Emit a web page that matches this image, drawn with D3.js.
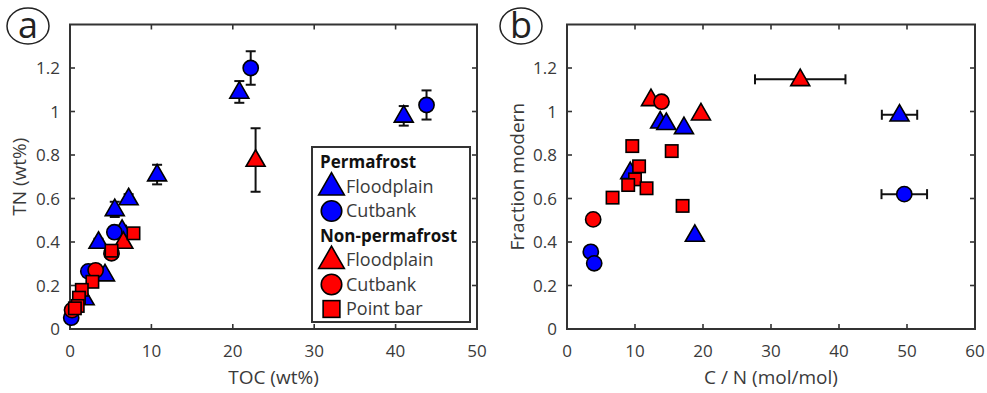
<!DOCTYPE html>
<html>
<head>
<meta charset="utf-8">
<script src="https://d3js.org/d3.v7.min.js"></script>
<style>
  body { margin: 0; background: #fff; }
  text { font-family: "Open Sans", "Noto Sans", sans-serif; fill: #3a3a3a; }
</style>
</head>
<body>
<svg id="chart" width="987" height="393"></svg>
<script>
// panel a: TOC (wt%) vs TN (wt%), e = error on TN
let aPermFlood = [
  {x: 20.8, y: 1.09, e: 0.05}, {x: 41.0, y: 0.98, e: 0.045}, {x: 10.7, y: 0.71, e: 0.045},
  {x: 7.2, y: 0.60, e: 0.02}, {x: 5.5, y: 0.55, e: 0.035}, {x: 3.5, y: 0.40, e: 0.015},
  {x: 6.4, y: 0.455, e: 0.02}, {x: 4.3, y: 0.25, e: 0.01}, {x: 1.8, y: 0.14, e: 0.01}
];
let aPermCut = [
  {x: 22.2, y: 1.20, e: 0.077}, {x: 43.8, y: 1.03, e: 0.067}, {x: 5.45, y: 0.445, e: 0},
  {x: 2.25, y: 0.265, e: 0}, {x: 0.15, y: 0.052, e: 0}
];
let aNonFlood = [
  {x: 22.8, y: 0.777, e: 0.146}, {x: 6.55, y: 0.40, e: 0.01}
];
let aNonCut = [
  {x: 3.15, y: 0.27, e: 0}, {x: 5.1, y: 0.348, e: 0}, {x: 0.25, y: 0.087, e: 0}
];
let aNonBar = [
  {x: 7.8, y: 0.44}, {x: 5.1, y: 0.36}, {x: 2.75, y: 0.217}, {x: 1.45, y: 0.18},
  {x: 1.1, y: 0.144}, {x: 0.95, y: 0.106}, {x: 0.6, y: 0.095}
];

// panel b: C/N (mol/mol) vs fraction modern, e = error on C/N
let bPermFlood = [
  {x: 48.9, y: 0.985, e: 2.6}, {x: 18.8, y: 0.432, e: 0}, {x: 13.7, y: 0.953, e: 0},
  {x: 14.6, y: 0.946, e: 0}, {x: 17.2, y: 0.927, e: 0}, {x: 9.3, y: 0.72, e: 0}
];
let bPermCut = [
  {x: 49.6, y: 0.62, e: 3.35}, {x: 3.5, y: 0.355, e: 0}, {x: 4.0, y: 0.302, e: 0}
];
let bNonFlood = [
  {x: 34.3, y: 1.148, e: 6.65}, {x: 12.35, y: 1.056, e: 0}, {x: 19.7, y: 0.99, e: 0}
];
let bNonCut = [
  {x: 13.9, y: 1.045, e: 0}, {x: 3.85, y: 0.504, e: 0}
];
let bNonBar = [
  {x: 9.6, y: 0.841}, {x: 15.4, y: 0.818}, {x: 10.6, y: 0.748}, {x: 10.0, y: 0.688},
  {x: 9.0, y: 0.662}, {x: 11.7, y: 0.647}, {x: 6.7, y: 0.604}, {x: 17.0, y: 0.566}
];

let yTicks = [0, 0.2, 0.4, 0.6, 0.8, 1, 1.2];
let aXTicks = [0, 10, 20, 30, 40, 50];
let bXTicks = [0, 10, 20, 30, 40, 50, 60];

let legendRows = [
  {head: 'Permafrost'},
  {label: 'Floodplain', shape: 'tri', color: '#0000ff'},
  {label: 'Cutbank', shape: 'circ', color: '#0000ff'},
  {head: 'Non-permafrost'},
  {label: 'Floodplain', shape: 'tri', color: '#ff0000'},
  {label: 'Cutbank', shape: 'circ', color: '#ff0000'},
  {label: 'Point bar', shape: 'sq', color: '#ff0000'}
];

let blue = '#0000ff', red = '#ff0000', axisColor = '#333';
let plotTop = 24.5, plotBottom = 329;
let svg = d3.select('#chart');

let xA = d3.scaleLinear().domain([0, 50]).range([70, 477]);
let xB = d3.scaleLinear().domain([0, 60]).range([567, 975]);
let yS = d3.scaleLinear().domain([0, 1.4]).range([plotBottom, plotTop]);

function marker(g, shape, cx, cy, color, s) {
  // s = scale factor (1 in plot, bigger in legend)
  let m;
  if (shape === 'tri') {
    let w = 9.5 * s, h = 16.5 * s;
    m = g.append('path').attr('d', `M${cx},${cy - h * 0.62}L${cx + w},${cy + h * 0.38}L${cx - w},${cy + h * 0.38}Z`);
  } else if (shape === 'circ') {
    m = g.append('circle').attr('cx', cx).attr('cy', cy).attr('r', 7.6 * s);
  } else {
    let a = 6.2 * s;
    m = g.append('rect').attr('x', cx - a).attr('y', cy - a).attr('width', 2 * a).attr('height', 2 * a);
  }
  m.attr('fill', color).attr('stroke', '#000').attr('stroke-width', 1.6);
}

function drawPanel(x, ticksX, xLabel, yLabel, yLabelX, letter, letterX) {
  let g = svg.append('g');
  let x0 = x.range()[0], x1 = x.range()[1];
  // ticks on all four sides (inward)
  ticksX.forEach(t => {
    g.append('line').attr('x1', x(t)).attr('x2', x(t)).attr('y1', plotBottom).attr('y2', plotBottom - 5)
      .attr('stroke', axisColor).attr('stroke-width', 1.6);
    g.append('line').attr('x1', x(t)).attr('x2', x(t)).attr('y1', plotTop).attr('y2', plotTop + 5)
      .attr('stroke', axisColor).attr('stroke-width', 1.6);
    g.append('text').attr('x', x(t)).attr('y', 357).attr('text-anchor', 'middle')
      .style('font-size', '17px').text(t);
  });
  yTicks.forEach(t => {
    g.append('line').attr('x1', x0).attr('x2', x0 + 5).attr('y1', yS(t)).attr('y2', yS(t))
      .attr('stroke', axisColor).attr('stroke-width', 1.6);
    g.append('line').attr('x1', x1).attr('x2', x1 - 5).attr('y1', yS(t)).attr('y2', yS(t))
      .attr('stroke', axisColor).attr('stroke-width', 1.6);
    g.append('text').attr('x', x0 - 10).attr('y', yS(t)).attr('dy', '0.36em').attr('text-anchor', 'end')
      .style('font-size', '17px').text(t);
  });
  g.append('rect').attr('x', x0).attr('y', plotTop).attr('width', x1 - x0).attr('height', plotBottom - plotTop)
    .attr('fill', 'none').attr('stroke', axisColor).attr('stroke-width', 2);
  g.append('text').attr('x', (x0 + x1) / 2).attr('y', 384).attr('text-anchor', 'middle')
    .style('font-size', '19px').text(xLabel);
  g.append('text').attr('transform', `translate(${yLabelX},${(plotTop + plotBottom) / 2}) rotate(-90)`)
    .attr('text-anchor', 'middle').style('font-size', '19px').text(yLabel);
  // panel letter
  g.append('ellipse').attr('cx', letterX).attr('cy', 26).attr('rx', 21).attr('ry', 18)
    .attr('fill', 'none').attr('stroke', '#222').attr('stroke-width', 1.5);
  g.append('text').attr('x', letterX).attr('y', 38).attr('text-anchor', 'middle')
    .style('font-size', '36px').style('fill', '#222').text(letter);
  return g;
}

function errY(g, x, d) {
  if (!d.e) return;
  let cx = x(d.x), y1 = yS(d.y - d.e), y2 = yS(d.y + d.e);
  g.append('line').attr('x1', cx).attr('x2', cx).attr('y1', y1).attr('y2', y2).attr('stroke', '#111').attr('stroke-width', 2);
  [y1, y2].forEach(yy => g.append('line').attr('x1', cx - 5).attr('x2', cx + 5).attr('y1', yy).attr('y2', yy)
    .attr('stroke', '#111').attr('stroke-width', 2));
}
function errX(g, x, d) {
  if (!d.e) return;
  let cy = yS(d.y), x1 = x(d.x - d.e), x2 = x(d.x + d.e);
  g.append('line').attr('x1', x1).attr('x2', x2).attr('y1', cy).attr('y2', cy).attr('stroke', '#111').attr('stroke-width', 2);
  [x1, x2].forEach(xx => g.append('line').attr('x1', xx).attr('x2', xx).attr('y1', cy - 5).attr('y2', cy + 5)
    .attr('stroke', '#111').attr('stroke-width', 2));
}

function series(g, x, data, shape, color, errFn) {
  data.forEach(d => { if (errFn) errFn(g, x, d); marker(g, shape, x(d.x), yS(d.y), color, 1); });
}

let ga = drawPanel(xA, aXTicks, 'TOC (wt%)', 'TN (wt%)', 26, 'a', 28);
series(ga, xA, aPermFlood, 'tri', blue, errY);
series(ga, xA, aPermCut, 'circ', blue, errY);
series(ga, xA, aNonFlood, 'tri', red, errY);
series(ga, xA, aNonCut, 'circ', red, errY);
series(ga, xA, aNonBar, 'sq', red, null);

let gb = drawPanel(xB, bXTicks, 'C / N (mol/mol)', 'Fraction modern', 524, 'b', 521);
series(gb, xB, bPermFlood, 'tri', blue, errX);
series(gb, xB, bPermCut, 'circ', blue, errX);
series(gb, xB, bNonFlood, 'tri', red, errX);
series(gb, xB, bNonCut, 'circ', red, errX);
series(gb, xB, bNonBar, 'sq', red, null);

// legend
let lg = svg.append('g');
lg.append('rect').attr('x', 312).attr('y', 147).attr('width', 158).attr('height', 175)
  .attr('fill', '#fff').attr('stroke', axisColor).attr('stroke-width', 2);
legendRows.forEach((r, i) => {
  let cy = 162 + i * 24.5;
  if (r.head) {
    lg.append('text').attr('x', 320).attr('y', cy).attr('dy', '0.36em')
      .style('font-size', '17px').style('font-weight', 'bold').style('fill', '#111').text(r.head);
  } else {
    marker(lg, r.shape, 331.5, cy, r.color, 1.35);
    lg.append('text').attr('x', 346).attr('y', cy).attr('dy', '0.36em')
      .style('font-size', '18px').text(r.label);
  }
});
</script>
</body>
</html>
